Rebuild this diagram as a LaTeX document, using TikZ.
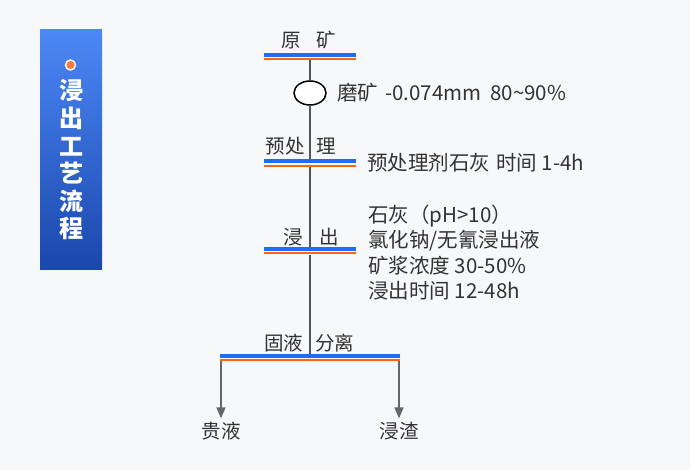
\documentclass[tikz,border=0pt]{standalone}
\usepackage{fontspec}
\setmainfont{Noto Sans CJK SC}
\usetikzlibrary{arrows.meta,shapes.geometric}
\definecolor{bgc}{HTML}{F7F8FA}
\definecolor{barblue}{HTML}{1E6CFA}
\definecolor{barorange}{HTML}{FF6412}
\definecolor{txt}{HTML}{333333}
\definecolor{linec}{HTML}{555555}
\definecolor{arrc}{HTML}{666666}
\definecolor{bantop}{HTML}{4C88F6}
\definecolor{banbot}{HTML}{1A47AC}
\definecolor{dotc}{HTML}{FF7A3A}
\tikzset{
  lbl/.style={text=txt,inner sep=0pt,font=\fontsize{19.5}{22}\selectfont},
  info/.style={text=txt,inner sep=0pt,font=\fontsize{20.5}{24}\selectfont,anchor=base west},
  bbar/.style={rectangle,fill=barblue,inner sep=0pt,minimum height=4pt},
  obar/.style={rectangle,fill=barorange,inner sep=0pt,minimum height=2pt},
  conn/.style={draw=linec,line width=1.5pt},
  arr/.style={draw=arrc,line width=1.5pt,-{Triangle[width=9pt,length=11pt]}},
  endlbl/.style={text=txt,inner sep=3pt,font=\fontsize{19.5}{22}\selectfont}
}
\begin{document}
\begin{tikzpicture}[x=1pt,y=-1pt]
\useasboundingbox (0,0) rectangle (690,470);
\fill[bgc] (0,0) rectangle (690,470);
% banner
\shade[top color=bantop,bottom color=banbot] (40,30) rectangle (102,269);
\node[circle,fill=dotc,draw=white,line width=1.4pt,minimum size=10pt,inner sep=0pt] (dot) at (70.5,65) {};
\node[text=white,align=center,inner sep=0pt,font=\fontsize{24}{27.6}\selectfont\bfseries] (title) at (71,160)
  {浸\\出\\工\\艺\\流\\程};
% 原矿
\node[lbl,anchor=base east] (yk1) at (301,48) {原};
\node[lbl,anchor=base west] (yk2) at (316,48) {矿};
\node[bbar,minimum width=92pt] (b1) at (310,54.7) {};
\node[obar,minimum width=92pt] (o1) at (310,58.7) {};
% ellipse
\node[ellipse,draw=black,line width=1.5pt,minimum width=32pt,minimum height=24pt,inner sep=0pt,fill=white] (mill) at (310,93) {};
\node[info] (millt) at (337,100.5) {磨矿\hspace{7pt}-0.074mm\hspace{9pt}80\textasciitilde90\%};
% 预处理
\node[lbl,anchor=base east] (pt1) at (305,154) {预处};
\node[lbl,anchor=base west] (pt2) at (316,154) {理};
\node[bbar,minimum width=92pt] (b2) at (310,161.5) {};
\node[obar,minimum width=92pt] (o2) at (310,166) {};
\node[info] (ptt) at (367,170.5) {预处理剂石灰\hspace{6pt}时间 1-4h};
% 浸出
\node[lbl,anchor=base east] (lc1) at (303,244) {浸};
\node[lbl,anchor=base west] (lc2) at (319,244) {出};
\node[bbar,minimum width=92pt] (b3) at (310,249) {};
\node[obar,minimum width=92pt] (o3) at (310,253.3) {};
\node[info] (lt1) at (368,222.5) {石灰（pH>10）};
\node[info] (lt2) at (368,247.5) {氯化钠/无氰浸出液};
\node[info] (lt3) at (368,273) {矿浆浓度 30-50\%};
\node[info] (lt4) at (368,298.5) {浸出时间 12-48h};
% 固液分离
\node[lbl,anchor=base east] (sl1) at (303.5,350) {固液};
\node[lbl,anchor=base west] (sl2) at (315,350) {分离};
\node[bbar,minimum width=180pt] (b4) at (310,356) {};
\node[obar,minimum width=180pt] (o4) at (310,360.2) {};
% end labels
\node[endlbl,anchor=base] (gy) at (221,438) {贵液};
\node[endlbl,anchor=base] (jz) at (399,438) {浸渣};
% connectors
\draw[conn] (o1.south) -- (mill.north);
\draw[conn] (mill.south) -- (b2.north);
\draw[conn] (o2.south) -- (b3.north);
\draw[conn] (o3.south) -- (b4.north);
\draw[arr] (o4.south -| gy.north) -- (gy.north);
\draw[arr] (o4.south -| jz.north) -- (jz.north);
\end{tikzpicture}
\end{document}
